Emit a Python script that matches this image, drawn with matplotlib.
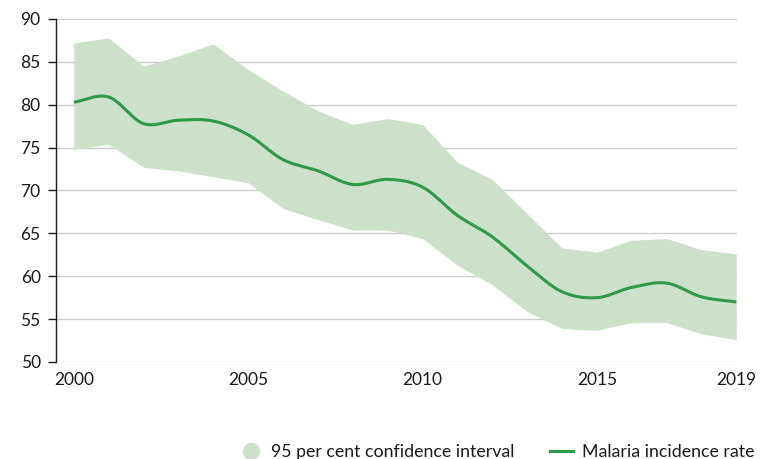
import numpy as np
import matplotlib
matplotlib.use("Agg")
import matplotlib.pyplot as plt
from matplotlib.lines import Line2D

plt.rcParams['font.family'] = ['Lato', 'DejaVu Sans']

years = list(range(2000, 2020))
incidence = [80.3, 80.9, 77.8, 78.2, 78.1, 76.5, 73.6, 72.3, 70.7, 71.3,
             70.4, 67.1, 64.6, 61.2, 58.2, 57.5, 58.7, 59.2, 57.6, 57.0]
ci_upper = [87.2, 87.8, 84.5, 85.7, 87.1, 84.1, 81.6, 79.3, 77.7, 78.4,
            77.7, 73.3, 71.3, 67.3, 63.3, 62.8, 64.2, 64.4, 63.1, 62.6]
ci_lower = [74.8, 75.4, 72.7, 72.3, 71.6, 70.9, 67.9, 66.6, 65.4, 65.4,
            64.4, 61.3, 59.0, 55.9, 53.9, 53.7, 54.6, 54.6, 53.3, 52.6]
x_ticks = [2000, 2005, 2010, 2015, 2019]
y_ticks = [50, 55, 60, 65, 70, 75, 80, 85, 90]

fill_color = '#cde0c9'
line_color = '#2e9a47'
text_color = '#1a1a1a'
font_size = 12.5


def catmull_rom(x, y, n=20):
    """Smooth curve through the points using Catmull-Rom tangents."""
    x = np.asarray(x, float)
    y = np.asarray(y, float)
    m = np.gradient(y, x)
    xs, ys = [], []
    for i in range(len(x) - 1):
        h = x[i + 1] - x[i]
        t = np.linspace(0, 1, n, endpoint=False)
        h00 = 2 * t**3 - 3 * t**2 + 1
        h10 = t**3 - 2 * t**2 + t
        h01 = -2 * t**3 + 3 * t**2
        h11 = t**3 - t**2
        xs.append(x[i] + t * h)
        ys.append(h00 * y[i] + h10 * h * m[i] + h01 * y[i + 1] + h11 * h * m[i + 1])
    xs.append([x[-1]])
    ys.append([y[-1]])
    return np.concatenate(xs), np.concatenate(ys)


fig = plt.figure(figsize=(7.77, 4.59), dpi=100)
ax = fig.add_axes([56 / 777, 1 - 362 / 459, (737 - 56) / 777, (362 - 19) / 459])

ax.fill_between(years, ci_lower, ci_upper, color=fill_color, lw=0, zorder=2)
sx, sy = catmull_rom(years, incidence)
ax.plot(sx, sy, color=line_color, lw=2.2, zorder=3, solid_capstyle='butt')

ax.set_xlim(1999.49, 2019.02)
ax.set_ylim(50, 90)
ax.set_yticks(y_ticks)
ax.set_xticks(x_ticks)
ax.yaxis.grid(True, color='#cccccc', lw=1, zorder=1)
ax.set_axisbelow(True)

for s in ['top', 'right', 'bottom']:
    ax.spines[s].set_visible(False)
ax.spines['left'].set_color(text_color)
ax.spines['left'].set_linewidth(1)
ax.spines['left'].set_zorder(4)

ax.tick_params(axis='y', length=6, width=1, color=text_color, labelsize=font_size,
               labelcolor=text_color, pad=5)
ax.tick_params(axis='x', length=0, labelsize=font_size, labelcolor=text_color, pad=7)

handles = [
    Line2D([], [], marker='o', ls='none', markersize=11.5, markerfacecolor=fill_color,
           markeredgecolor=fill_color, label='95 per cent confidence interval'),
    Line2D([], [], color=line_color, lw=2.2, label='Malaria incidence rate'),
]
fig.legend(handles=handles, loc='lower right', bbox_to_anchor=(0.992, -0.038),
           ncol=2, frameon=False, fontsize=12.8, handlelength=1.3,
           handletextpad=0.5, columnspacing=2.0, labelcolor=text_color)

fig.savefig('out.png', dpi=100)
